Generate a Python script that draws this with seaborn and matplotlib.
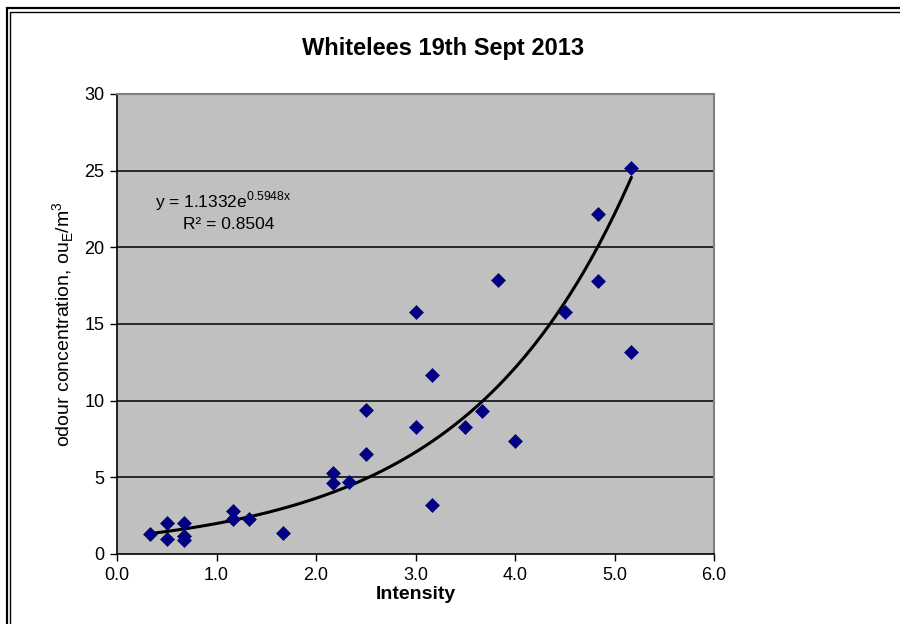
import numpy as np
import pandas as pd
import matplotlib
matplotlib.use('Agg')
import matplotlib.pyplot as plt
from matplotlib.patches import Rectangle
import seaborn as sns

# Datos
intensity = [0.33, 0.5, 0.5, 0.67, 0.67, 0.67, 1.17, 1.17, 1.33, 1.67,
             2.17, 2.17, 2.33, 2.5, 2.5, 3.0, 3.0, 3.17, 3.17, 3.5,
             3.67, 3.83, 4.0, 4.5, 4.83, 4.83, 5.17, 5.17]
odour = [1.3, 2.0, 1.0, 2.0, 1.2, 0.9, 2.8, 2.3, 2.3, 1.4,
         5.3, 4.6, 4.7, 9.4, 6.5, 15.8, 8.3, 11.7, 3.2, 8.3,
         9.3, 17.9, 7.4, 15.8, 22.2, 17.8, 25.2, 13.2]
x_ticks = [0, 1, 2, 3, 4, 5, 6]
y_ticks = [0, 5, 10, 15, 20, 25, 30]

df = pd.DataFrame({'Intensity': intensity, 'odour': odour})

sns.set_style('white')
plt.rcParams['font.family'] = ['Liberation Sans Narrow', 'Liberation Sans', 'DejaVu Sans']
plt.rcParams['text.color'] = 'black'
plt.rcParams['axes.labelcolor'] = 'black'
plt.rcParams['xtick.color'] = 'black'
plt.rcParams['ytick.color'] = 'black'

fig = plt.figure(figsize=(9, 6.24), dpi=100)
ax = fig.add_axes([117 / 900, 70 / 624, 597 / 900, 460 / 624])
ax.set_facecolor('#C0C0C0')

# moldura dupla
fig.patches.append(Rectangle((6.5 / 900, -0.2), 1.2, 1 - 8.5 / 624 + 0.2,
                             transform=fig.transFigure, fill=False,
                             edgecolor='black', lw=1.6))
fig.patches.append(Rectangle((9.5 / 900, -0.2), 1.2, 1 - 11.5 / 624 + 0.2,
                             transform=fig.transFigure, fill=False,
                             edgecolor='black', lw=1.0))

for yv in y_ticks[1:-1]:
    ax.axhline(yv, color='black', lw=1.1, zorder=1)

sns.scatterplot(data=df, x='Intensity', y='odour', marker='D', s=50,
                color='#000080', edgecolor='#000080', linewidth=0.5,
                ax=ax, zorder=3)

# linha de tendência exponencial
b, loga = np.polyfit(df['Intensity'], np.log(df['odour']), 1)
xs = np.linspace(min(intensity), max(intensity), 200)
ax.plot(xs, np.exp(loga) * np.exp(b * xs), color='black', lw=2.2, zorder=2)

ax.text(0.38, 23.0, 'y = 1.1332e$^{\\mathregular{0.5948x}}$', fontsize=12.5,
        family=['Liberation Sans', 'DejaVu Sans'], va='center')
ax.text(0.66, 21.5, 'R² = 0.8504', fontsize=12.5,
        family=['Liberation Sans', 'DejaVu Sans'], va='center')

ax.set_xlim(0, 6)
ax.set_ylim(0, 30)
ax.set_xticks(x_ticks)
ax.set_xticklabels([f'{v:.1f}' for v in x_ticks], fontsize=13)
ax.set_yticks(y_ticks)
ax.set_yticklabels([str(v) for v in y_ticks], fontsize=13)
ax.tick_params(direction='out', length=5, width=1, color='black', pad=4,
               bottom=True, left=True)

for side in ['left', 'bottom']:
    ax.spines[side].set_color('black')
    ax.spines[side].set_linewidth(1.2)
for side in ['top', 'right']:
    ax.spines[side].set_color('#808080')
    ax.spines[side].set_linewidth(1.5)

ax.set_xlabel('Intensity', fontsize=14, fontweight='bold', labelpad=2)
ax.set_ylabel('odour concentration, ou$_\\mathregular{E}$/m$^\\mathregular{3}$',
              fontsize=14, labelpad=6)
fig.text(443 / 900, 1 - 48 / 624, 'Whitelees 19th Sept 2013', fontsize=17,
         fontweight='bold', ha='center', va='center')

fig.savefig('out.png', dpi=100, facecolor='white')
